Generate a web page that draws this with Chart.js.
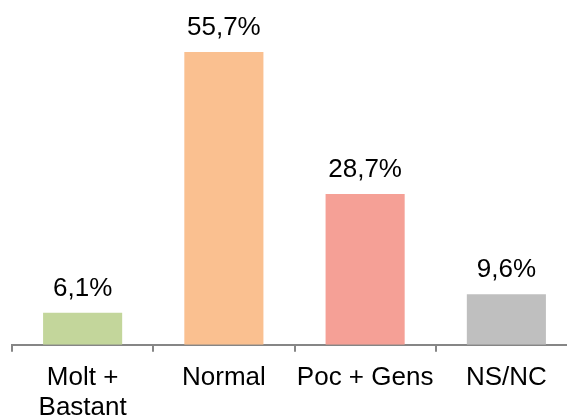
<!DOCTYPE html>
<html lang="ca">
<head>
  <meta charset="UTF-8">
  <title>Percentatges</title>
  <script src="https://cdn.jsdelivr.net/npm/chart.js"></script>
  <style>
    html, body { margin: 0; padding: 0; background: #fff; overflow: hidden; width: 567px; height: 419px; }
    #wrap { width: 580px; height: 434px; }
  </style>
</head>
<body>
  <div id="wrap">
    <canvas id="barChart" width="580" height="434"></canvas>
  </div>
  <script>
    // values
    const categories = [['Molt +', 'Bastant'], 'Normal', 'Poc + Gens', 'NS/NC'];
    const percents = [6.1, 55.7, 28.7, 9.6];
    const valueLabels = ['6,1%', '55,7%', '28,7%', '9,6%'];
    const barColors = ['#c3d69b', '#fac090', '#f5a096', '#bfbfbf'];

    // draws the percent above each bar
    const barLabels = {
      id: 'barLabels',
      afterDatasetsDraw(chart) {
        const ctx = chart.ctx;
        const meta = chart.getDatasetMeta(0);
        ctx.save();
        ctx.font = '26px "Liberation Sans", Arial, sans-serif';
        ctx.fillStyle = '#000';
        ctx.textAlign = 'center';
        ctx.textBaseline = 'alphabetic';
        meta.data.forEach((bar, i) => {
          ctx.fillText(valueLabels[i], bar.x, bar.y - 17);
        });
        ctx.restore();
      }
    };

    const ctx = document.getElementById('barChart').getContext('2d');
    new Chart(ctx, {
      type: 'bar',
      data: {
        labels: categories,
        datasets: [{
          data: percents,
          backgroundColor: barColors,
          borderWidth: 0,
          categoryPercentage: 1,
          barPercentage: 0.56
        }]
      },
      options: {
        responsive: false,
        animation: false,
        layout: { padding: { left: 12, right: 3, top: 0, bottom: 0 } },
        plugins: { legend: { display: false }, tooltip: { enabled: false } },
        scales: {
          x: {
            grid: {
              offset: true,
              drawOnChartArea: false,
              drawTicks: true,
              tickLength: 7,
              color: '#868686',
              lineWidth: 2
            },
            border: { display: true, color: '#868686', width: 2 },
            ticks: {
              color: '#000',
              padding: 12,
              font: { family: '"Liberation Sans", Arial, sans-serif', size: 26, lineHeight: 1.12 },
              maxRotation: 0,
              autoSkip: false
            }
          },
          y: {
            display: false,
            min: 0,
            max: 65.6
          }
        }
      },
      plugins: [barLabels]
    });
  </script>
</body>
</html>
